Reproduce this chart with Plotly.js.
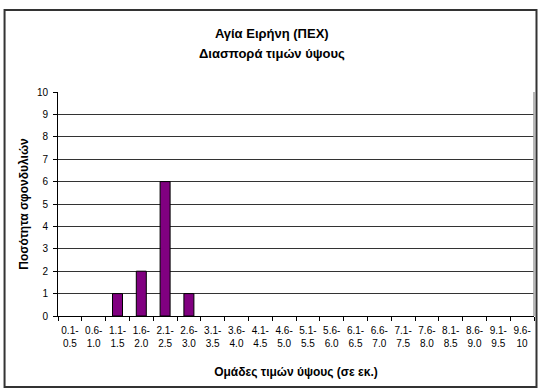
<!DOCTYPE html>
<html>
<head>
<meta charset="utf-8">
<script src="https://cdn.plot.ly/plotly-3.0.1.min.js"></script>
<style>
  html, body { margin: 0; padding: 0; background: #ffffff; }
  #chart { width: 538px; height: 390px; }
</style>
</head>
<body>
<div id="chart"></div>
<script>
// Data
const categories = [
  "0.1-<br>0.5", "0.6-<br>1.0", "1.1-<br>1.5", "1.6-<br>2.0", "2.1-<br>2.5",
  "2.6-<br>3.0", "3.1-<br>3.5", "3.6-<br>4.0", "4.1-<br>4.5", "4.6-<br>5.0",
  "5.1-<br>5.5", "5.6-<br>6.0", "6.1-<br>6.5", "6.6-<br>7.0", "7.1-<br>7.5",
  "7.6-<br>8.0", "8.1-<br>8.5", "8.6-<br>9.0", "9.1-<br>9.5", "9.6-<br>10"
];
const counts = [0, 0, 1, 2, 6, 1, 0, 0, 0, 0, 0, 0, 0, 0, 0, 0, 0, 0, 0, 0];
const titleLine1 = "Αγία Ειρήνη (ΠΕΧ)";
const titleLine2 = "Διασπορά τιμών ύψους";
const xTitle = "Ομάδες τιμών ύψους (σε εκ.)";
const yTitle = "Ποσότητα σφονδυλιών";

const FONT = "Liberation Sans, Arial, sans-serif";

const trace = {
  type: "bar",
  x: categories,
  y: counts,
  marker: {
    color: "#800080",
    line: { color: "#000000", width: counts.map(v => (v > 0 ? 1 : 0)) }
  },
  hoverinfo: "x+y"
};

const L = 58, R = 534.5, T = 92, B = 316, W = 538, H = 390;
const pw = R - L, ph = B - T;
const px = v => (v - L) / pw;
const py = v => (B - v) / ph;

const layout = {
  width: W, height: H, autosize: false,
  margin: { l: L, r: W - R, t: T, b: H - B, pad: 0 },
  paper_bgcolor: "#ffffff",
  plot_bgcolor: "#ffffff",
  font: { family: FONT, size: 10, color: "#000000" },
  showlegend: false,
  bargap: 0.58,
  title: {
    text: "<b>" + titleLine1 + "</b>",
    font: { family: FONT, size: 13, color: "#000000" },
    xref: "paper", x: px(272), xanchor: "center",
    yref: "container", y: 1 - 33 / H, yanchor: "middle"
  },
  annotations: [{
    text: "<b>" + titleLine2 + "</b>",
    xref: "paper", yref: "paper", x: px(272), y: py(53),
    xanchor: "center", yanchor: "middle", showarrow: false,
    font: { family: FONT, size: 13, color: "#000000" }
  }],
  xaxis: {
    type: "category",
    tickson: "boundaries",
    ticks: "outside", ticklen: 4, tickwidth: 1, tickcolor: "#000000",
    showline: true, linecolor: "#000000", linewidth: 1,
    showgrid: false, zeroline: false,
    tickangle: 0,
    ticklabelstandoff: 5,
    tickfont: { family: FONT, size: 10, color: "#000000" },
    title: { text: "<b>" + xTitle + "</b>", font: { family: FONT, size: 12, color: "#000000" }, standoff: 19 },
    fixedrange: true
  },
  yaxis: {
    range: [0, 10], dtick: 1, tick0: 0,
    ticks: "outside", ticklen: 4, tickwidth: 1, tickcolor: "#000000",
    showline: true, linecolor: "#000000", linewidth: 1,
    showgrid: true, gridcolor: "#333333", gridwidth: 1,
    zeroline: false,
    ticklabelstandoff: 3,
    tickfont: { family: FONT, size: 10, color: "#000000" },
    title: { text: "<b>" + yTitle + "</b>", font: { family: FONT, size: 12, color: "#000000" }, standoff: 5 },
    fixedrange: true
  },
  shapes: [
    { type: "line", xref: "paper", yref: "paper", x0: 1, x1: 1, y0: 0, y1: 1,
      line: { color: "#a0a0a0", width: 1.5 } },
    { type: "rect", xref: "paper", yref: "paper",
      x0: px(4.5), x1: px(537), y0: py(387), y1: py(10),
      line: { color: "#333333", width: 2 }, fillcolor: "rgba(0,0,0,0)", layer: "above" }
  ]
};

Plotly.newPlot("chart", [trace], layout, { displayModeBar: false, staticPlot: true });
</script>
</body>
</html>
